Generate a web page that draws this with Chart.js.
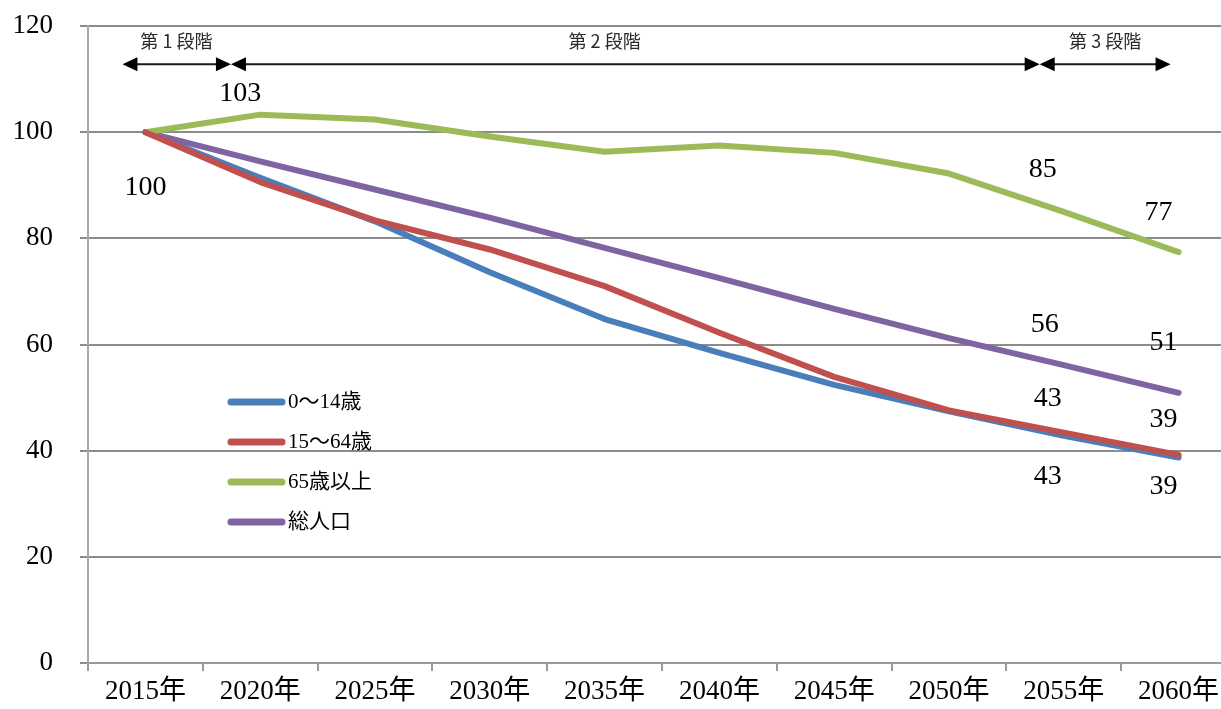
<!DOCTYPE html>
<html lang="ja">
<head>
<meta charset="utf-8">
<title>年齢区分別人口の推移</title>
<script src="https://cdn.jsdelivr.net/npm/chart.js@4.4.1/dist/chart.umd.min.js"></script>
<style>
  html, body { margin: 0; padding: 0; background: #fff; overflow: hidden; }
  #wrap { width: 1236px; height: 709px; position: relative; }
</style>
</head>
<body>
<div id="wrap"><canvas id="popChart"></canvas></div>
<script>
// Index (2015 = 100) by age group
const years = ['2015年', '2020年', '2025年', '2030年', '2035年', '2040年', '2045年', '2050年', '2055年', '2060年'];
const child = [100, 91.4, 83.2, 73.6, 64.8, 58.4, 52.4, 47.4, 42.8, 38.7];
const working = [100, 90.6, 83.4, 77.9, 71.0, 62.2, 53.9, 47.6, 43.4, 39.2];
const elderly = [100, 103.3, 102.4, 99.2, 96.3, 97.5, 96.1, 92.2, 85.0, 77.4];
const total = [100, 94.5, 89.2, 83.9, 78.2, 72.5, 66.7, 61.2, 56.1, 50.9];
const seriesNames = ['0～14歳', '15～64歳', '65歳以上', '総人口'];
const yTicks = [0, 20, 40, 60, 80, 100, 120];

// Phase ranges, as positions on the category axis
const stageNames = ['第 1 段階', '第 2 段階', '第 3 段階'];
const stageFrom = [-0.2, 0.745, 7.79];
const stageTo = [0.745, 7.79, 8.93];
const stageTextAt = [0.27, 4.0, 8.36];

const serif = "'Liberation Serif', 'Noto Sans CJK JP', serif";
Chart.defaults.font.family = serif;
Chart.defaults.color = '#000';

// Value labels: which point, and where the text sits relative to it
const valueLabels = [
    { ds: 2, i: 0, dx: 0, dy: 55 },
    { ds: 2, i: 1, dx: -20, dy: -21 },
    { ds: 2, i: 8, dx: -21, dy: -42 },
    { ds: 2, i: 9, dx: -20, dy: -39 },
    { ds: 3, i: 8, dx: -19, dy: -41 },
    { ds: 3, i: 9, dx: -15, dy: -50 },
    { ds: 1, i: 8, dx: -16, dy: -34 },
    { ds: 1, i: 9, dx: -15, dy: -35 },
    { ds: 0, i: 8, dx: -16, dy: 41 },
    { ds: 0, i: 9, dx: -15, dy: 29 }
];

function arrowHead(ctx, tipX, y, dir) {
    ctx.beginPath();
    ctx.moveTo(tipX, y);
    ctx.lineTo(tipX - dir * 15, y - 7);
    ctx.lineTo(tipX - dir * 15, y + 7);
    ctx.closePath();
    ctx.fill();
}

const overlays = {
    id: 'overlays',
    afterDatasetsDraw(chart) {
        const ctx = chart.ctx;
        const x = chart.scales.x, y = chart.scales.y;
        ctx.save();

        // phase arrows
        const ay = y.getPixelForValue(112.8);
        ctx.strokeStyle = '#1a1a1a';
        ctx.fillStyle = '#000';
        ctx.lineWidth = 2;
        stageNames.forEach((name, k) => {
            const x0 = x.getPixelForValue(stageFrom[k]);
            const x1 = x.getPixelForValue(stageTo[k]);
            ctx.beginPath();
            ctx.moveTo(x0 + 4, ay);
            ctx.lineTo(x1 - 4, ay);
            ctx.stroke();
            arrowHead(ctx, x0, ay, -1);
            arrowHead(ctx, x1, ay, 1);
            ctx.font = "18px 'Noto Sans CJK JP', sans-serif";
            ctx.fillStyle = '#2a2a2a';
            ctx.textAlign = 'center';
            ctx.textBaseline = 'middle';
            ctx.fillText(name, x.getPixelForValue(stageTextAt[k]), ay - 23);
            ctx.fillStyle = '#000';
        });

        // value labels
        ctx.font = '28px ' + serif;
        ctx.fillStyle = '#000';
        ctx.textAlign = 'center';
        ctx.textBaseline = 'middle';
        valueLabels.forEach(l => {
            const pt = chart.getDatasetMeta(l.ds).data[l.i];
            const v = chart.data.datasets[l.ds].data[l.i];
            ctx.fillText(String(Math.round(v)), pt.x + l.dx, pt.y + l.dy);
        });

        // legend inside the plot
        const lx = chart.chartArea.left + 140;
        ctx.font = '21px ' + serif;
        ctx.textAlign = 'left';
        ctx.lineCap = 'round';
        chart.data.datasets.forEach((ds, k) => {
            const ly = 402 + k * 40;
            ctx.strokeStyle = ds.borderColor;
            ctx.lineWidth = 7;
            ctx.beginPath();
            ctx.moveTo(lx + 3, ly);
            ctx.lineTo(lx + 54, ly);
            ctx.stroke();
            ctx.fillStyle = '#000';
            ctx.fillText(ds.label, lx + 60, ly);
        });
        ctx.restore();
    }
};

const ctx = document.getElementById('popChart').getContext('2d');
const popChart = new Chart(ctx, {
    type: 'line',
    data: {
        labels: years,
        datasets: [{
            label: seriesNames[0],
            data: child,
            borderColor: '#4a7ebb',
            order: 1
        }, {
            label: seriesNames[1],
            data: working,
            borderColor: '#c0504d',
            order: 0
        }, {
            label: seriesNames[2],
            data: elderly,
            borderColor: '#9bbb59',
            order: 0
        }, {
            label: seriesNames[3],
            data: total,
            borderColor: '#8064a2',
            order: 0
        }]
    },
    options: {
        responsive: true,
        maintainAspectRatio: false,
        animation: false,
        layout: { padding: { top: 26, right: 0, left: 0, bottom: 0 } },
        elements: {
            line: { borderWidth: 6, tension: 0, borderJoinStyle: 'round', borderCapStyle: 'round' },
            point: { radius: 0, hoverRadius: 0 }
        },
        plugins: {
            legend: { display: false },
            tooltip: { enabled: false }
        },
        scales: {
            x: {
                offset: true,
                grid: { offset: true, drawOnChartArea: false, tickLength: 8, color: '#9a9a9a', lineWidth: 2 },
                border: { color: '#9a9a9a', width: 2 },
                ticks: { font: { size: 27 }, padding: 5, maxRotation: 0 },
                afterFit(scale) {
                    scale.height = 46;
                    scale.paddingLeft = 0;
                    scale.paddingRight = 0;
                }
            },
            y: {
                min: 0,
                max: 120,
                afterBuildTicks(scale) { scale.ticks = yTicks.map(v => ({ value: v })); },
                grid: { color: '#8c8c8c', lineWidth: 2, tickLength: 8 },
                border: { color: '#a8a8a8', width: 2 },
                ticks: { font: { size: 27 }, padding: 27 },
                afterFit(scale) {
                    scale.width = 88;
                    scale.paddingTop = 0;
                    scale.paddingBottom = 0;
                }
            }
        }
    },
    plugins: [overlays]
});
</script>
</body>
</html>
